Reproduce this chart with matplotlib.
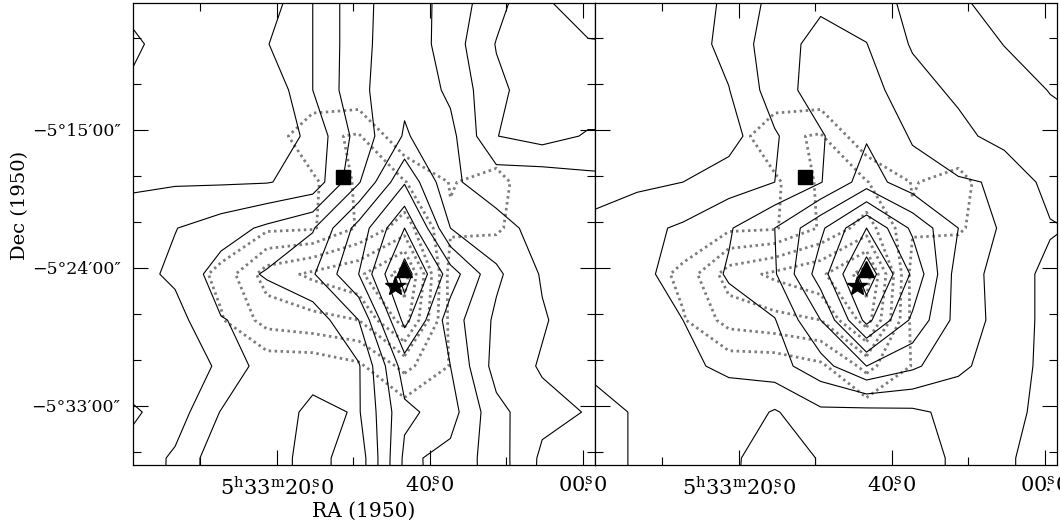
import numpy as np
import matplotlib.pyplot as plt
from matplotlib.ticker import MultipleLocator

plt.rcParams['font.family'] = 'DejaVu Serif'
plt.rcParams['mathtext.fontset'] = 'dejavuserif'

# map grid: RA in seconds from the 5h33m20s tick, Dec in arcmin (negative = south of -5 deg)
ra_nodes = [-19.3, -13.3, -7.3, -1.3, 4.7, 10.7, 16.7, 22.7, 28.7, 34.7, 40.7, 46.7]
dec_nodes = [-6.4, -9.4, -12.4, -15.4, -18.4, -21.4, -24.4, -27.4, -30.4, -33.4, -36.4, -39.4]

# solid contours, left panel (rows north to south, columns as drawn left to right)
left_map = [
    [0.5, 0.2, 0.2, 0.36, 2.0, 3.7, 4.6, 3.6, 2.4, 1.1, 0.3, 0.2],
    [1.4, 0.2, 0.1, 0.95, 2.0, 3.7, 4.7, 3.5, 1.95, 1.3, 1.1, 1.0],
    [0.8, 0.2, 0.1, 0.1, 2.0, 3.75, 4.8, 3.8, 2.2, 1.5, 1.4, 1.3],
    [0.6, 0.2, 0.15, 0.2, 1.3, 3.4, 5.1, 4.3, 2.02, 1.6, 2.1, 2.1],
    [0.9, 0.9, 0.9, 0.95, 1.33, 3.9, 6.9, 4.14, 3.6, 3.7, 3.3, 3.2],
    [1.3, 1.97, 2.5, 3.2, 3.9, 6.4, 9.0, 5.0, 4.3, 3.7, 3.6, 3.5],
    [1.6, 2.2, 3.5, 4.1, 4.9, 7.0, 10.5, 7.5, 5.2, 3.9, 3.4, 3.3],
    [1.5, 1.6, 2.95, 3.3, 3.4, 5.0, 9.3, 6.5, 4.8, 4.1, 3.4, 3.3],
    [1.6, 1.8, 2.05, 3.6, 3.5, 3.9, 7.5, 7.0, 4.6, 3.9, 3.2, 3.0],
    [0.8, 1.5, 3.05, 3.3, 4.3, 3.9, 6.8, 7.4, 5.3, 4.3, 3.95, 3.6],
    [1.3, 2.17, 3.7, 3.5, 4.4, 3.4, 7.2, 6.7, 5.5, 3.8, 3.6, 3.4],
    [1.3, 2.2, 3.7, 3.5, 4.4, 3.4, 7.3, 6.6, 5.6, 3.7, 3.5, 3.3],
]

# solid contours, right panel
right_map = [
    [0.2, 0.3, 0.4, 1.2, 2.3, 2.8, 2.5, 1.7, 1.1, 0.6, 0.4, 0.3],
    [0.2, 0.3, 0.5, 1.3, 2.6, 3.3, 3.02, 1.9, 1.5, 0.98, 0.6, 0.5],
    [0.2, 0.3, 0.45, 0.97, 2.5, 3.5, 3.4, 2.4, 1.8, 1.4, 0.97, 0.6],
    [0.3, 0.4, 0.5, 0.6, 1.9, 2.9, 3.9, 2.9, 2.3, 1.6, 1.3, 1.1],
    [0.5, 0.8, 1.0, 1.5, 2.0, 2.95, 4.5, 3.4, 3.1, 2.9, 1.6, 1.4],
    [1.3, 1.7, 2.15, 2.9, 4.0, 5.8, 8.0, 5.8, 4.0, 2.8, 2.1, 1.8],
    [1.6, 1.8, 2.3, 3.1, 3.9, 6.5, 9.6, 6.84, 3.5, 2.6, 1.7, 1.5],
    [1.5, 1.8, 2.0, 2.6, 2.95, 5.0, 8.3, 5.8, 3.6, 2.6, 1.7, 1.5],
    [1.2, 1.6, 1.9, 2.1, 2.6, 3.6, 5.0, 4.2, 3.2, 2.5, 1.7, 1.5],
    [0.6, 1.1, 1.5, 1.7, 0.9, 1.8, 1.7, 1.8, 2.3, 2.4, 1.6, 1.4],
    [0.6, 1.1, 1.4, 1.3, 0.2, 1.1, 1.5, 1.5, 2.2, 2.2, 1.4, 1.3],
    [0.6, 1.1, 1.4, 1.2, 0.2, 1.1, 1.5, 1.5, 2.2, 2.2, 1.4, 1.3],
]

# dotted grey contours, the same in both panels
dotted_map = [
    [0, 0, 0, 0, 0, 0, 0, 0, 0, 0, 0, 0],
    [0, 0, 0, 0, 0, 0, 0, 0, 0, 0, 0, 0],
    [0, 0, 0, 0, 0.2, 0.2, 0, 0, 0, 0, 0, 0],
    [0, 0, 0, 0.3, 1.8, 2.1, 0.2, 0.1, 0.3, 0, 0, 0],
    [0, 0, 0, 0.3, 0.8, 2.2, 2.05, 0.95, 1.3, 0.3, 0, 0],
    [0, 0, 0.1, 0.8, 0.9, 2.1, 3.5, 1.1, 1.15, 0.2, 0, 0],
    [0, 0.2, 1.3, 3.5, 4.2, 4.8, 6.5, 0.6, 0.1, 0, 0, 0],
    [0, 0.1, 0.9, 2.4, 2.7, 3.0, 5.5, 0.7, 0.1, 0, 0, 0],
    [0, 0, 0.1, 0.3, 0.3, 0.8, 2.3, 0.95, 0, 0, 0, 0],
    [0, 0, 0, 0, 0, 0.1, 0.4, 0.3, 0, 0, 0, 0],
    [0, 0, 0, 0, 0, 0, 0, 0, 0, 0, 0, 0],
    [0, 0, 0, 0, 0, 0, 0, 0, 0, 0, 0, 0],
]

solid_levels = [1, 2, 3, 4, 5, 6, 7, 8, 9, 10]
dotted_levels = [1, 2, 3, 4, 5, 6]

# source positions (RA s, Dec arcmin)
square_pos = (8.6, -18.1)
triangle_pos = (16.6, -24.1)
star_pos = (15.4, -25.2)

ra_ticks = [0, 20, 40]
ra_minor = [-10, 10, 30]
ra_labels = [r'$5^{\rm h}33^{\rm m}20^{\rm s}\!\!\!.0$', r'$40^{\rm s}\!\!\!.0$', r'$00^{\rm s}\!\!\!.0$']
dec_ticks = [-15, -24, -33]
dec_labels = ['\u22125\u00b015\u203200\u2033', '\u22125\u00b024\u203200\u2033', '\u22125\u00b033\u203200\u2033']


def draw_panel(ax, solid, show_dec):
    x = np.array(ra_nodes)
    y = np.array(dec_nodes)[::-1]
    ax.contour(x, y, np.array(dotted_map)[::-1], levels=dotted_levels,
               colors='#7c7c7c', linewidths=2.0, linestyles=[(0, (0.9, 1.25))])
    ax.contour(x, y, np.array(solid)[::-1], levels=solid_levels,
               colors='k', linewidths=0.8, linestyles='solid')
    ax.plot(*square_pos, 's', color='k', ms=9.5)
    ax.plot(*triangle_pos, '^', color='k', ms=11.5)
    ax.plot(*star_pos, '*', color='k', ms=15)

    ax.set_xlim(-18.8, 41.6)
    ax.set_ylim(-36.85, -6.72)
    ax.set_xticks(ra_ticks)
    ax.set_xticks(ra_minor, minor=True)
    ax.set_xticklabels(ra_labels, fontsize=15)
    ax.set_yticks(dec_ticks)
    ax.yaxis.set_minor_locator(MultipleLocator(3))
    if show_dec:
        ax.set_yticklabels(dec_labels, fontsize=12.5)
    else:
        ax.set_yticklabels([])
    ax.tick_params(which='both', direction='in', top=True, right=True, width=0.8, color='k')
    ax.tick_params(which='major', length=11)
    ax.tick_params(which='minor', length=5.5)
    ax.tick_params(axis='x', pad=8)
    ax.tick_params(axis='y', pad=9)
    for s in ax.spines.values():
        s.set_linewidth(0.9)


fig = plt.figure(figsize=(10.6, 5.25), dpi=100)
ax1 = fig.add_axes([133 / 1060, 60 / 525, 462 / 1060, 462 / 525])
ax2 = fig.add_axes([595 / 1060, 60 / 525, 462 / 1060, 462 / 525])

draw_panel(ax1, left_map, True)
draw_panel(ax2, right_map, False)

ax1.set_xlabel('RA (1950)', fontsize=14.5, labelpad=2)
fig.text(20 / 1060, 1 - 205 / 525, 'Dec (1950)', rotation=90, fontsize=14,
         ha='center', va='center')

fig.savefig('out.png', dpi=100)
